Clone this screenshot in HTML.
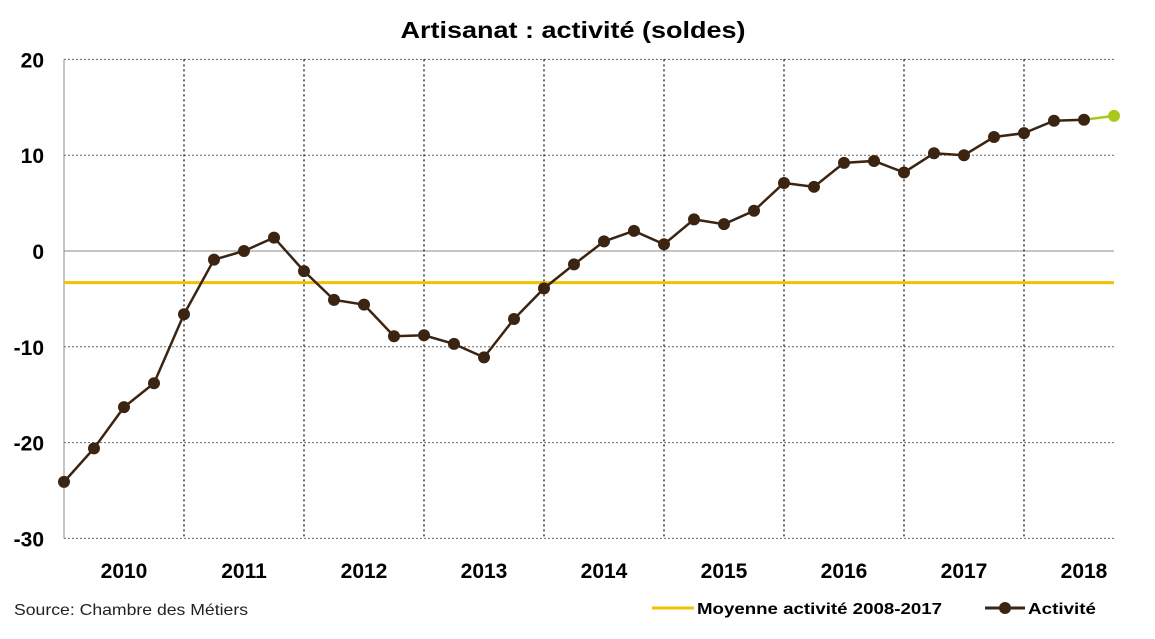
<!DOCTYPE html>
<html><head><meta charset="utf-8"><style>
body{margin:0;background:#fff;}
svg text{font-family:"Liberation Sans",sans-serif;}
</style></head><body>
<svg id="chart" width="1155" height="634" xmlns="http://www.w3.org/2000/svg">
<text x="573" y="38" text-anchor="middle" font-size="23" font-weight="bold" textLength="345" lengthAdjust="spacingAndGlyphs">Artisanat : activité (soldes)</text>
<g id="grid"></g><g id="axes"></g><g id="series"></g>
<text x="14" y="615" font-size="16" fill="#222" textLength="234" lengthAdjust="spacingAndGlyphs">Source: Chambre des Métiers</text>
<g>
<line x1="652" y1="608" x2="694" y2="608" stroke="#F2C200" stroke-width="3"/>
<text x="697" y="614" font-size="16" font-weight="bold" textLength="245" lengthAdjust="spacingAndGlyphs">Moyenne activité 2008-2017</text>
<line x1="985" y1="608" x2="1025" y2="608" stroke="#3B2412" stroke-width="3"/>
<circle cx="1005" cy="608" r="6" fill="#3B2412"/>
<text x="1028" y="614" font-size="16" font-weight="bold" textLength="68" lengthAdjust="spacingAndGlyphs">Activité</text>
</g>
</svg>
<script>
const values=[-24.1,-20.6,-16.3,-13.8,-6.6,-0.9,0,1.4,-2.1,-5.1,-5.6,-8.9,-8.8,-9.7,-11.1,-7.1,-3.9,-1.4,1.0,2.1,0.7,3.3,2.8,4.2,7.1,6.7,9.2,9.4,8.2,10.2,10.0,11.9,12.3,13.6,13.7,14.1];
const years=["2010","2011","2012","2013","2014","2015","2016","2017","2018"];
const yTicks=[20,10,0,-10,-20,-30];
const average=[-3.3];
const NS="http://www.w3.org/2000/svg";
const x0=64,x1=1114,step=30;
function xs(i){return x0+i*step;}
function ys(v){return 251-v*9.58;}
function mk(tag,attrs,parent){const e=document.createElementNS(NS,tag);for(const k in attrs)e.setAttribute(k,attrs[k]);document.getElementById(parent).appendChild(e);return e;}
yTicks.forEach(t=>{
  const y=ys(t);
  const l=mk('line',{x1:x0,x2:x1,y1:y,y2:y,stroke:t===0?'#888':'#666','stroke-width':1,'stroke-dasharray':t===0?'':'2,2'},'grid');
  
  
  const tx=mk('text',{x:44,y:y+8,'text-anchor':'end','font-size':21,'font-weight':'bold'},'axes');
  tx.textContent=t;
  
  
});
years.forEach((yr,i)=>{
  const bx=x0+i*120;
  if(i>0){const v=mk('line',{x1:bx,x2:bx,y1:ys(20),y2:ys(-30),stroke:'#000','stroke-width':1.2,'stroke-dasharray':'2,3'},'grid');
  
  }
  const tx=mk('text',{x:bx+60,y:578,'text-anchor':'middle','font-size':21,'font-weight':'bold'},'axes');
  tx.textContent=yr;
  
  
});
const ax=mk('line',{x1:x0,x2:x0,y1:ys(20),y2:ys(-30),stroke:'#888','stroke-width':1},'axes');


const av=mk('line',{x1:x0,x2:x1,y1:ys(average[0]),y2:ys(average[0]),stroke:'#F2C200','stroke-width':3},'series');


const n=values.length;
let d='';
for(let i=0;i<n-1;i++)d+=(i?'L':'M')+xs(i)+','+ys(values[i]);
const p=mk('path',{d:d,fill:'none',stroke:'#3B2412','stroke-width':2.5},'series');


const g=mk('line',{x1:xs(n-2),y1:ys(values[n-2]),x2:xs(n-1),y2:ys(values[n-1]),stroke:'#A8C81E','stroke-width':2.5},'series');


values.forEach((v,i)=>{
  const c=mk('circle',{cx:xs(i),cy:ys(v),r:6,fill:i===n-1?'#A8C81E':'#3B2412'},'series');
  
  
});
</script>
</body></html>
